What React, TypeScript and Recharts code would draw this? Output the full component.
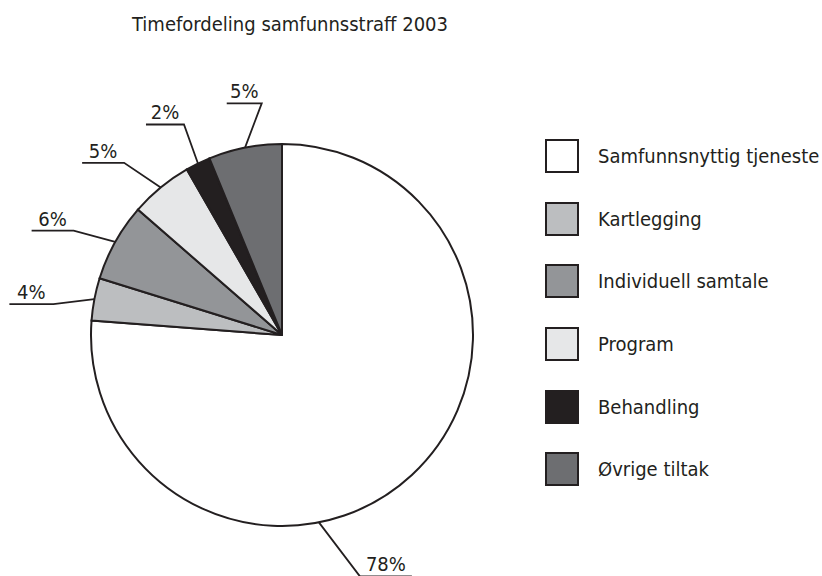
import React from "react";
import { PieChart, Pie, Cell, Legend } from "recharts";

const categories = [
  "Samfunnsnyttig tjeneste",
  "Kartlegging",
  "Individuell samtale",
  "Program",
  "Behandling",
  "Øvrige tiltak",
];
// slice shares as drawn in the picture
const shares = [76.2, 3.6, 6.6, 5.3, 2.1, 6.2];
// printed labels
const percentLabels = ["78%", "4%", "6%", "5%", "2%", "5%"];

const colors = ["#ffffff", "#bcbec0", "#939598", "#e6e7e8", "#231f20", "#6d6e71"];
const ink = "#231f20";
const font = "'DejaVu Sans Condensed', 'Open Sans', sans-serif";

// leader lines: elbow offset from the arc point, then an underline
const leaders = [
  { angleShift: -31.7, dx: 41, dy: 54, dir: 1, len: 52 },
  { angleShift: 0, dx: -41, dy: 5, dir: -1, len: 44 },
  { angleShift: 0, dx: -41.6, dy: -11.4, dir: -1, len: 42 },
  { angleShift: 0, dx: -36.6, dy: -24.6, dir: -1, len: 42 },
  { angleShift: 0, dx: -14, dy: -39, dir: -1, len: 38 },
  { angleShift: 0, dx: 16.7, dy: -44.3, dir: -1, len: 35 },
];

const data = categories.map((name, i) => ({
  name,
  value: shares[i],
  label: percentLabels[i],
}));

const RADIAN = Math.PI / 180;

const renderLabel = (props: any) => {
  const { cx, cy, outerRadius, midAngle, index } = props;
  const l = leaders[index];
  const a = (midAngle + l.angleShift) * RADIAN;
  const x0 = cx + outerRadius * Math.cos(-a);
  const y0 = cy + outerRadius * Math.sin(-a);
  const x1 = x0 + l.dx;
  const y1 = y0 + l.dy;
  const x2 = x1 + l.dir * l.len;
  return (
    <g>
      <polyline
        points={`${x0},${y0} ${x1},${y1} ${x2},${y1}`}
        fill="none"
        stroke={ink}
        strokeWidth={1.8}
      />
      <text
        x={(x1 + x2) / 2}
        y={y1 - 5}
        textAnchor="middle"
        fill={ink}
        fontSize={20}
        fontFamily={font}
      >
        {percentLabels[index]}
      </text>
    </g>
  );
};

// keep the legend in the data order (recharts sorts by name otherwise)
const renderLegend = () => (
  <div>
    {categories.map((name, i) => (
      <div
        key={name}
        style={{ display: "flex", alignItems: "center", height: 34, marginBottom: 28.7 }}
      >
        <div
          style={{
            width: 30,
            height: 30,
            flexShrink: 0,
            border: `2px solid ${ink}`,
            background: colors[i],
            marginRight: 19,
          }}
        />
        <span style={{ color: ink, fontSize: 20, fontFamily: font, whiteSpace: "nowrap" }}>
          {name}
        </span>
      </div>
    ))}
  </div>
);

document.body.style.margin = "0";

const App: React.FC = () => {
  return (
    <div style={{ position: "relative", width: 822, height: 576, background: "#fff", fontFamily: font }}>
      <div
        style={{
          position: "absolute",
          left: 132,
          top: 12,
          fontSize: 20,
          color: ink,
          whiteSpace: "nowrap",
        }}
      >
        Timefordeling samfunnsstraff 2003
      </div>
      <PieChart width={822} height={576} margin={{ top: 0, right: 0, bottom: 0, left: 0 }}>
        <Pie
          data={data}
          dataKey="value"
          nameKey="name"
          cx={282}
          cy={335}
          outerRadius={191}
          startAngle={90}
          endAngle={-270}
          stroke={ink}
          strokeWidth={2}
          label={renderLabel}
          labelLine={false}
          isAnimationActive={false}
        >
          {data.map((d, i) => (
            <Cell key={d.name} fill={colors[i]} />
          ))}
        </Pie>
        <Legend
          layout="vertical"
          align="right"
          verticalAlign="top"
          content={renderLegend}
          wrapperStyle={{ left: 545, top: 139, right: "auto", width: 277 }}
        />
      </PieChart>
    </div>
  );
};

export default App;
